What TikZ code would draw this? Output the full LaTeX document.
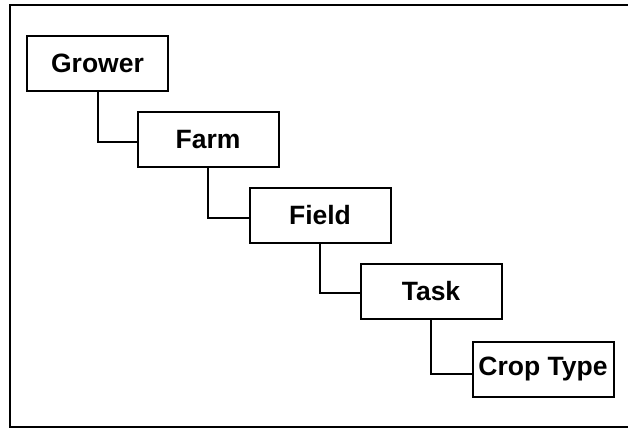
\documentclass[tikz,border=0pt]{standalone}
\usepackage{fontspec}
\setmainfont{Liberation Sans}
\begin{document}
\begin{tikzpicture}[x=1pt,y=-1pt,
  entity/.style={draw=black,line width=2pt,minimum width=141pt,minimum height=55pt,
    inner sep=0pt,font=\fontsize{26.5}{30}\selectfont\bfseries},
  link/.style={draw=black,line width=2pt}]
\useasboundingbox (0,0) rectangle (628,428);
\draw[line width=2.4pt] (628,5) -- (10,5) -- (10,427) -- (628,427);
\node[entity] (grower) at (97.5,63.5) {Grower};
\node[entity] (farm) at (208,139.5) {Farm};
\node[entity] (field) at (320,215.5) {Field};
\node[entity] (task) at (431,291.5) {Task};
\node[entity] (crop) at (543,369) {Crop Type};
\draw[link] (grower.south) |- ([yshift=-2pt]farm.west);
\draw[link] (farm.south) |- ([yshift=-2pt]field.west);
\draw[link] (field.south) |- ([yshift=-1pt]task.west);
\draw[link] (task.south) |- ([yshift=-5pt]crop.west);
\end{tikzpicture}
\end{document}
